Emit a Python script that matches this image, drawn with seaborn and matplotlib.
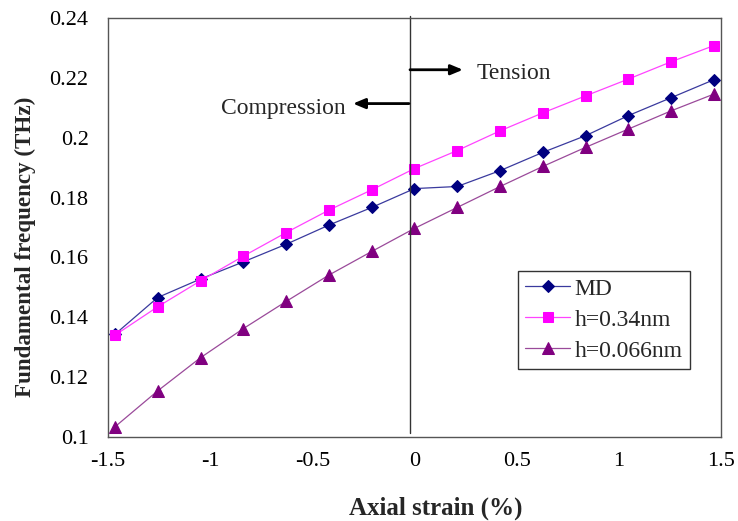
import matplotlib
matplotlib.use("Agg")
import matplotlib.pyplot as plt
from matplotlib.ticker import FuncFormatter, MultipleLocator
import pandas as pd
import seaborn as sns

# axial strain (%) at each computed point
strain = [-1.466, -1.257, -1.047, -0.838, -0.628, -0.419, -0.209, 0.0,
          0.209, 0.419, 0.628, 0.838, 1.047, 1.257, 1.466]

# fundamental frequency (THz)
freq_md = [0.1343, 0.1466, 0.1528, 0.1585, 0.1644, 0.1708, 0.1767, 0.1830,
           0.1837, 0.1890, 0.1951, 0.2007, 0.2074, 0.2134, 0.2194]
freq_h034 = [0.1340, 0.1435, 0.1522, 0.1604, 0.1683, 0.1758, 0.1826, 0.1897,
             0.1957, 0.2023, 0.2083, 0.2140, 0.2196, 0.2254, 0.2308]
freq_h0066 = [0.1034, 0.1154, 0.1265, 0.1362, 0.1453, 0.1541, 0.1620, 0.1697,
              0.1767, 0.1837, 0.1904, 0.1968, 0.2029, 0.2090, 0.2146]

labels = ["MD", "h=0.34nm", "h=0.066nm"]

sns.set_theme(style="white")
plt.rcParams["font.family"] = ["Liberation Serif", "DejaVu Serif"]
plt.rcParams["axes.unicode_minus"] = False

fig = plt.figure(figsize=(7.38, 5.21), dpi=100)
ax = fig.add_axes([0.1463, 0.1612, 0.8307, 0.8043])

df = pd.DataFrame({"strain": strain, "MD": freq_md,
                   "h=0.34nm": freq_h034, "h=0.066nm": freq_h0066})

# line colour, marker colour, marker, size
styles = {
    "MD": ("#3a3a9e", "#000080", "D", 6),
    "h=0.34nm": ("#ff44ff", "#ff00ff", "s", 7.5),
    "h=0.066nm": ("#9a4a9a", "#800080", "^", 8),
}
for lab in labels:
    lc, mc, mk, ms = styles[lab]
    sns.lineplot(data=df, x="strain", y=lab, ax=ax, color=lc, lw=0.9,
                 marker=mk, markersize=ms, markerfacecolor=mc,
                 markeredgecolor=mc, label=lab)

ax.set_xlim(-1.5, 1.5)
ax.set_ylim(0.1, 0.24)
ax.xaxis.set_major_locator(MultipleLocator(0.5))
ax.yaxis.set_major_locator(MultipleLocator(0.02))
fmt = FuncFormatter(lambda v, p: "%g" % round(v, 4))
ax.xaxis.set_major_formatter(fmt)
ax.yaxis.set_major_formatter(fmt)
ax.tick_params(direction="in", length=5, width=0.9, colors="#333333",
               labelcolor="black", labelsize=16)
ax.tick_params(axis="y", pad=14)
ax.tick_params(axis="x", pad=11)
for s in ax.spines.values():
    s.set_color("#555555")
    s.set_linewidth(1.0)

ax.set_xlabel("Axial strain (%)", fontsize=18, fontweight="bold")
ax.set_ylabel("Fundamental frequency (THz)", fontsize=16.6, fontweight="bold")
ax.xaxis.set_label_coords(0.535, -0.143)
ax.yaxis.set_label_coords(-0.117, 0.453)

# divider between compression and tension
ax.plot([-0.022, -0.022], [0.1013, 0.2408], color="#333333", lw=1.0,
        clip_on=False)
ax.annotate("", xy=(0.237, 0.2227), xytext=(-0.022, 0.2227),
            arrowprops=dict(arrowstyle="-|>,head_width=0.25,head_length=0.6",
                            color="black", lw=2, shrinkA=0, shrinkB=0))
ax.annotate("", xy=(-0.301, 0.2114), xytext=(-0.027, 0.2114),
            arrowprops=dict(arrowstyle="-|>,head_width=0.25,head_length=0.6",
                            color="black", lw=2, shrinkA=0, shrinkB=0))
ax.text(0.306, 0.2214, "Tension", fontsize=17, va="center", ha="left")
ax.text(-0.335, 0.2097, "Compression", fontsize=17, va="center", ha="right")

leg = ax.legend(loc="upper left", bbox_to_anchor=(0.669, 0.396),
                borderaxespad=0, fontsize=17, frameon=True, fancybox=False,
                handlelength=1.9, handletextpad=0.2, labelspacing=0.4,
                borderpad=0.3)
leg.get_frame().set_edgecolor("black")
leg.get_frame().set_linewidth(1.0)

fig.savefig("out.png", dpi=100)
